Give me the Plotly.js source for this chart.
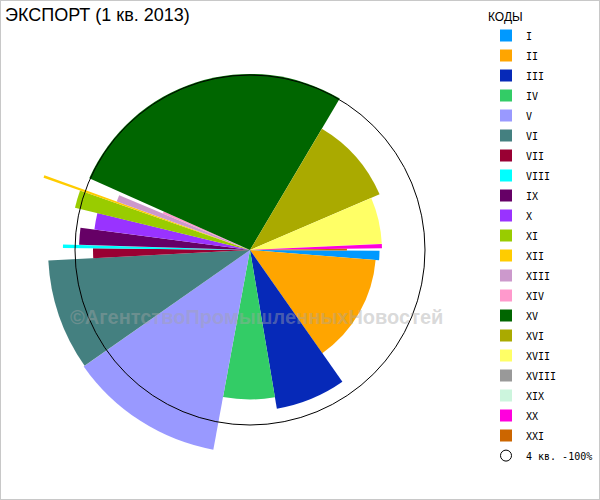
<!DOCTYPE html>
<html>
<head>
<meta charset="utf-8">
<script src="https://cdn.plot.ly/plotly-3.0.1.min.js"></script>
<style>
  html, body { margin: 0; padding: 0; background: #fff; }
  #wrap { position: relative; width: 600px; height: 500px; }
  #chart { width: 600px; height: 500px; }
  #frame { position: absolute; left: 0; top: 0; width: 600px; height: 500px; box-sizing: border-box; border: 1px solid #c8c8c8; pointer-events: none; }
</style>
</head>
<body>
<div id="wrap"><div id="chart"></div><div id="frame"></div></div>
<script>
// Commodity codes (legend order, also clockwise order of sectors)
const codes = ['I','II','III','IV','V','VI','VII','VIII','IX','X','XI','XII','XIII','XIV','XV','XVI','XVII','XVIII','XIX','XX','XXI'];
const colors = ['#0099FF','#FFA500','#0629B8','#33CC66','#9999FF','#448080','#990033','#00FFFF','#660066','#9933FF','#99CC00','#FFCC00','#CC99CC','#FF99CC','#006600','#AAAA00','#FFFF66','#999999','#CCF5DD','#FF00DD','#CC6600'];
// Share of total export in 1 quarter 2013, % (sector angle)
const share = [1.19, 14.0, 7.06, 5.56, 12.39, 8.89, 1.0, 0.31, 1.61, 1.69, 1.58, 0.19, 0.75, 0.39, 26.83, 10.03, 5.71, 0.02, 0.01, 0.50, 0.30];
// Export relative to 4 quarter 2012, % (sector radius)
const ratio = [74, 72, 92, 85.4, 116, 115.4, 89.7, 106.9, 97.7, 89.7, 102.9, 125, 81, 54, 100.6, 80.6, 75.4, 50, 50, 75.4, 55.4];
const refName = '4 кв. -100%';
const refValue = [100];

const total = share.reduce((a, b) => a + b, 0);
const traces = [];
let acc = 0;
codes.forEach((c, i) => {
  const w = share[i] / total * 360;
  traces.push({
    type: 'barpolar',
    subplot: 'polar',
    r: [ratio[i]],
    theta: [acc + w / 2],
    width: [w],
    name: c,
    legendgroup: c,
    marker: { color: colors[i], line: { width: 0 } },
    hoverinfo: 'name+r'
  });
  acc += w;
});
// legend entry for the 100% reference circle (circle itself is polar2's outline)
traces.push({
  type: 'scatterpolar',
  subplot: 'polar2',
  r: [refValue[0] * 10],
  theta: [0],
  mode: 'markers',
  cliponaxis: true,
  name: refName,
  legendgroup: 'ref',
  marker: { symbol: 'circle-open', size: 11, color: 'black', line: { width: 1, color: 'black' } },
  hoverinfo: 'skip'
});

const layout = {
  width: 600, height: 500,
  margin: { l: 0, r: 0, t: 0, b: 0 },
  paper_bgcolor: '#fff',
  showlegend: true,
  title: {
    text: 'ЭКСПОРТ (1 кв. 2013)',
    x: 5 / 600, xanchor: 'left', xref: 'paper',
    y: 1 - 15 / 500, yanchor: 'middle', yref: 'paper',
    font: { family: 'Liberation Sans, Arial, sans-serif', size: 18, color: '#000' }
  },
  polar: {
    domain: { x: [22.5 / 600, 477.5 / 600], y: [22.5 / 500, 477.5 / 500] },
    bgcolor: 'rgba(0,0,0,0)',
    bargap: 0,
    hole: 0,
    angularaxis: { direction: 'clockwise', rotation: -0.3, showgrid: false, showline: false, showticklabels: false, ticks: '' },
    radialaxis: { range: [0, 130], showgrid: false, showline: false, showticklabels: false, ticks: '' }
  },
  polar2: {
    domain: { x: [75 / 600, 425 / 600], y: [75 / 500, 425 / 500] },
    bgcolor: 'rgba(0,0,0,0)',
    angularaxis: { showline: true, linecolor: '#000', linewidth: 1, showgrid: false, showticklabels: false, ticks: '' },
    radialaxis: { range: [0, refValue[0]], visible: false }
  },
  legend: {
    x: 486 / 600, xanchor: 'left',
    y: 1 - 5.5 / 500, yanchor: 'top',
    bgcolor: 'rgba(0,0,0,0)',
    tracegroupgap: 1,
    font: { family: 'DejaVu Sans Mono, monospace', size: 10, color: '#000' },
    title: { text: 'КОДЫ', font: { family: 'Liberation Sans, Arial, sans-serif', size: 12, color: '#000' } }
  },
  annotations: [{
    text: '<b>©АгентствоПромышленныхНовостей</b>',
    xref: 'paper', yref: 'paper',
    x: 256 / 600, y: 1 - 317 / 500,
    showarrow: false,
    font: { family: 'Liberation Sans, Arial, sans-serif', size: 20, color: 'rgba(165,165,165,0.42)' }
  }]
};

Plotly.newPlot('chart', traces, layout, { displayModeBar: false, staticPlot: true });
</script>
</body>
</html>
